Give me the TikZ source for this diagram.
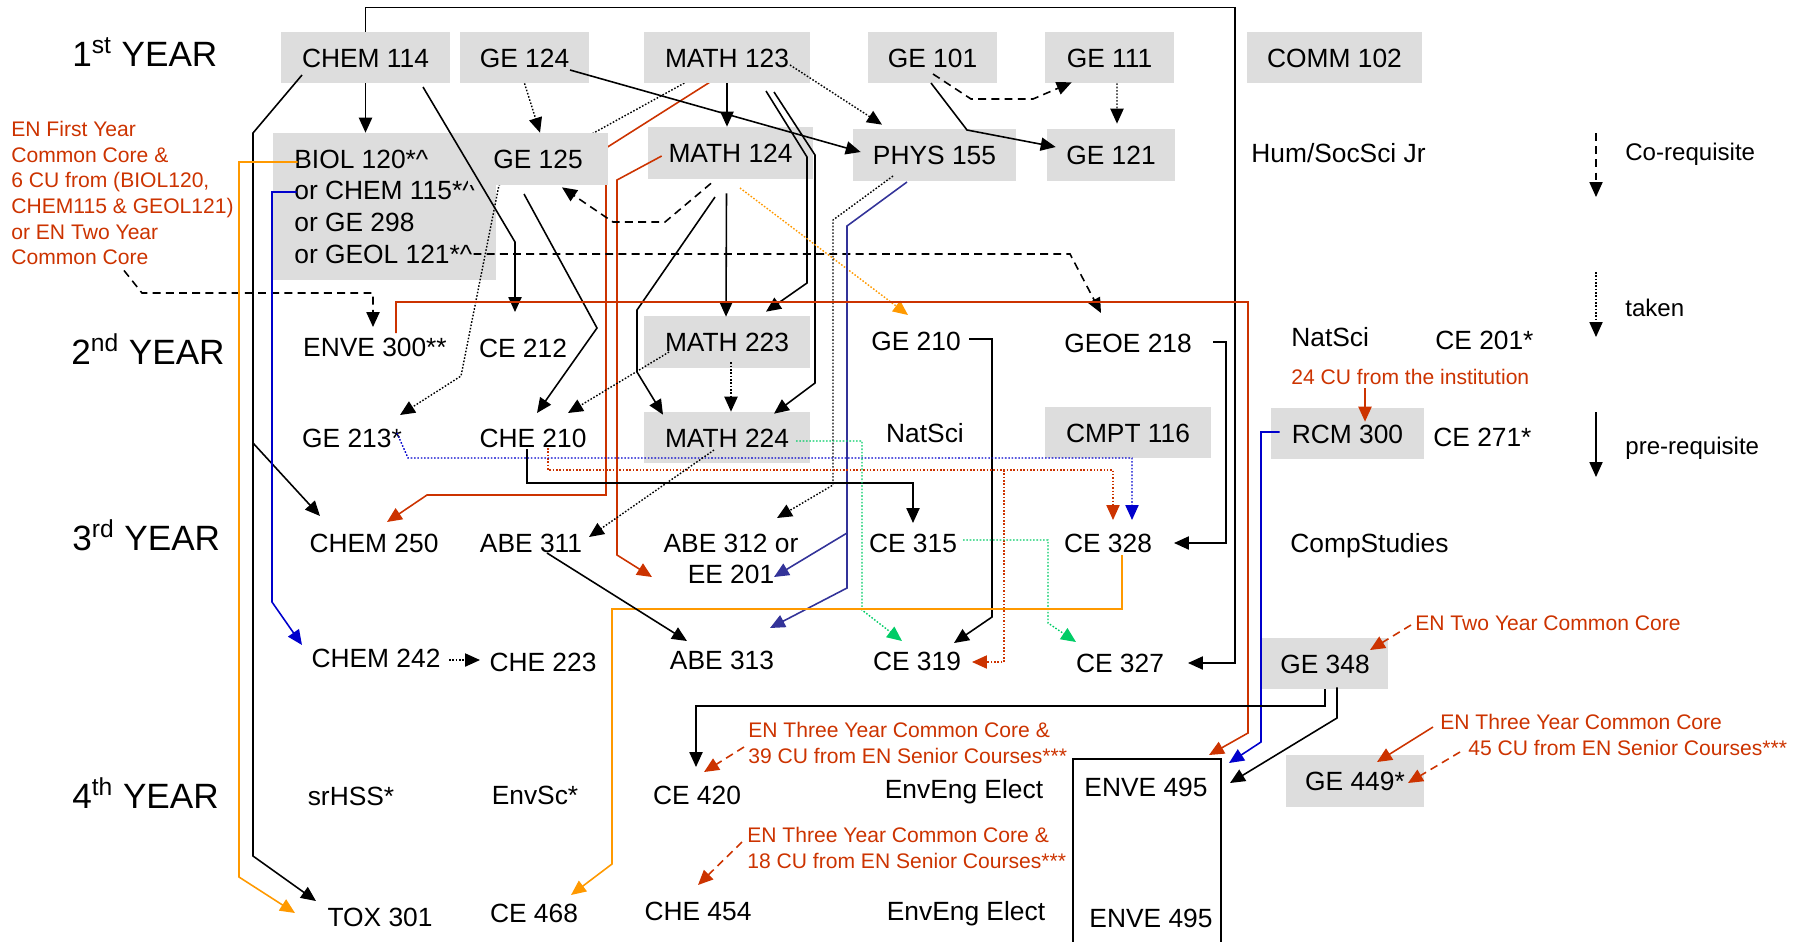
\documentclass[tikz,border=0pt]{standalone}
\usepackage{fontspec}
\setmainfont{Liberation Sans}
\usetikzlibrary{arrows.meta,calc}
\definecolor{redc}{RGB}{204,51,0}
\definecolor{orangec}{RGB}{255,153,0}
\definecolor{bluec}{RGB}{0,0,204}
\definecolor{navyc}{RGB}{51,51,153}
\definecolor{greenc}{RGB}{0,204,102}
\definecolor{boxgray}{RGB}{221,221,221}
\newcommand{\crs}{\fontsize{15}{18}\selectfont}
\newcommand{\lgs}{\fontsize{13.7}{16}\selectfont}
\newcommand{\yrs}{\fontsize{20}{24}\selectfont}
\newcommand{\nts}{\fontsize{12}{14.6}\selectfont}
\pgfdeclarelayer{background}
\pgfsetlayers{background,main}

\begin{document}
\begin{tikzpicture}[x=0.02cm,y=-0.02cm,
	pre/.style={-{Triangle[length=8.5pt,width=7.5pt]},line width=0.9pt},
	coreq/.style={pre,dash pattern=on 4.5pt off 3pt},
	taken/.style={-{Triangle[length=8.5pt,width=7.5pt]},line width=0.8pt,dash pattern=on 0.9pt off 1pt},
	course/.style={fill=boxgray,inner sep=0pt,minimum height=1.02cm,font=\crs,text height=11pt,text depth=0pt},
	plain/.style={inner sep=0pt,font=\crs,text height=11pt,text depth=0pt},
	year/.style={inner sep=0pt,font=\yrs,anchor=west},
	note/.style={inner sep=0pt,font=\nts,text=redc,align=left}]
		\useasboundingbox (0,0) rectangle (1802,941);
		\node[year] (yrA) at (72,52) {1\textsuperscript{st} YEAR};
		\node[year] (yrB) at (71,349) {2\textsuperscript{nd} YEAR};
		\node[year] (yrC) at (72,535) {3\textsuperscript{rd} YEAR};
		\node[year] (yrD) at (72,793) {4\textsuperscript{th} YEAR};
		%%%%%%%%%%%%%%%%%%%%%%%%%%%%%%%%%
		\node[course,minimum width=3.38cm] (chemA) at (365.5,57.5) {CHEM 114};
		\node[course,minimum width=2.58cm] (geA) at (524.5,57.5) {GE 124};
		\node[course,minimum width=3.32cm] (mathA) at (727,57.5) {MATH 123};
		\node[course,minimum width=2.58cm] (geB) at (932.5,57.5) {GE 101};
		\node[course,minimum width=2.58cm] (geC) at (1109.5,57.5) {GE 111};
		\node[course,minimum width=3.5cm] (comm) at (1334.5,57.5) {COMM 102};
		\node[course,minimum width=2.8cm,minimum height=1.04cm] (geD) at (538,159) {GE 125};
		\node[course,minimum width=3.3cm,minimum height=1.04cm] (mathB) at (730.5,153) {MATH 124};
		\node[course,minimum width=3.26cm,minimum height=1.04cm] (phys) at (934.5,155) {PHYS 155};
		\node[course,minimum width=2.56cm,minimum height=1.04cm] (geE) at (1111,155) {GE 121};
		\node[plain,anchor=west] (hum) at (1251,153) {Hum/SocSci Jr};
		\node[note,anchor=north west] (noteA) at (11,121) {EN First Year\\Common Core \&\\6 CU from (BIOL120,\\CHEM115 \& GEOL121)\\or EN Two Year\\Common Core};
		%%%%%%%%%%%%%%%%%%%%%%%%%%%%%%%%%
		\node[plain] (enveA) at (375,347) {ENVE 300**};
		\node[plain] (ceA) at (523,348) {CE 212};
		\node[course,minimum width=3.32cm,minimum height=1.04cm] (mathC) at (727,342) {MATH 223};
		\node[plain] (geI) at (916,341) {GE 210};
		\node[plain] (geoe) at (1128,343) {GEOE 218};
		\node[plain,anchor=west] (natA) at (1291,337) {NatSci};
		\node[plain,anchor=west] (ceH) at (1435,340) {CE 201*};
		\node[note,anchor=west] (noteB) at (1291,377) {24 CU from the institution};
		\node[plain] (geH) at (352,438) {GE 213*};
		\node[plain] (cheA) at (533,438) {CHE 210};
		\node[course,minimum width=3.32cm] (mathD) at (727,437.5) {MATH 224};
		\node[plain] (natB) at (925,433) {NatSci};
		\node[course,minimum width=3.32cm] (cmpt) at (1128,432.5) {CMPT 116};
		\node[course,minimum width=3.06cm] (rcm) at (1347.5,433.5) {RCM 300};
		\node[plain,anchor=west] (ceI) at (1433,437) {CE 271*};
		%%%%%%%%%%%%%%%%%%%%%%%%%%%%%%%%%
		\node[plain] (chemB) at (374,543) {CHEM 250};
		\node[plain] (abeA) at (531,543) {ABE 311};
		\node[inner sep=0pt,font=\crs,align=center] (abeB) at (731,559) {ABE 312 or\\EE 201};
		\node[plain] (ceD) at (913,543) {CE 315};
		\node[plain] (ceC) at (1108,543) {CE 328};
		\node[plain,anchor=west] (comp) at (1290,543) {CompStudies};
		\node[plain] (chemC) at (376,658) {CHEM 242};
		\node[plain] (cheB) at (543,662) {CHE 223};
		\node[plain] (abeC) at (722,660) {ABE 313};
		\node[plain] (ceB) at (917,661) {CE 319};
		\node[plain] (ceE) at (1120,663) {CE 327};
		\node[course,minimum width=2.52cm] (geF) at (1325,663.5) {GE 348};
		\node[note,anchor=west] (noteC) at (1415,623) {EN Two Year Common Core};
		%%%%%%%%%%%%%%%%%%%%%%%%%%%%%%%%%
		\node[plain] (srhss) at (351,796) {srHSS*};
		\node[plain] (envsc) at (535,795) {EnvSc*};
		\node[plain] (ceG) at (697,795) {CE 420};
		\node[note,anchor=west] (noteF) at (748,743) {EN Three Year Common Core \&\\39 CU from EN Senior Courses***};
		\node[plain] (elecA) at (964,789) {EnvEng Elect};
		\node[plain] (enveB) at (1146,787) {ENVE 495};
		\node[course,minimum width=2.76cm,minimum height=1.04cm] (geG) at (1355,781) {GE 449*};
		\node[note,anchor=west] (noteD) at (1440,722) {EN Three Year Common Core};
		\node[note,anchor=west] (noteE) at (1468,748) {45 CU from EN Senior Courses***};
		\node[note,anchor=west] (noteG) at (747,848) {EN Three Year Common Core \&\\18 CU from EN Senior Courses***};
		\node[plain] (tox) at (380,917) {TOX 301};
		\node[plain] (ceF) at (534,913) {CE 468};
		\node[plain] (cheC) at (698,911) {CHE 454};
		\node[plain] (elecB) at (966,911) {EnvEng Elect};
		\node[plain] (enveC) at (1151,918) {ENVE 495};
		\draw[line width=0.9pt] (1073,945) -- (1073,759) -- (1221,759) -- (1221,945);
		\coordinate (enveR) at (1221,759);
		%%%%%%%%%%%%%%%%%%%%%%%%%%%%%%%%% legend
		\coordinate (lgA) at (1596,133);
		\coordinate (lgB) at (1596,197);
		\coordinate (lgC) at (1596,272);
		\coordinate (lgD) at (1596,337);
		\coordinate (lgE) at (1596,412);
		\coordinate (lgF) at (1596,477);
		\draw[coreq,line width=0.7pt] (lgA) -- (lgB);
		\draw[taken,line width=0.7pt] (lgC) -- (lgD);
		\draw[pre,line width=0.7pt] (lgE) -- (lgF);
		\node[plain,font=\lgs,anchor=west] (lgtA) at (1625,151) {Co-requisite};
		\node[plain,font=\lgs,anchor=west] (lgtB) at (1625,307) {taken};
		\node[plain,font=\lgs,anchor=west] (lgtC) at (1625,445) {pre-requisite};
		%%%%%%%%%%%%%%%%%%%%%%%%%%%%%%%%% behind the boxes
		\begin{pgfonlayer}{background}
		\node[fill=boxgray,inner sep=0pt,align=left,font=\crs,minimum width=4.46cm,minimum height=2.94cm] (biol) at (384.5,206.5) {BIOL 120*\textasciicircum\\or CHEM 115*\textasciicircum\\or GE 298\\or GEOL 121*\textasciicircum};
		\draw[taken] ($(mathA)+(-28,17.5)$) -- (499,185) -- (461,376) -- ($(geH)+(48,-23)$);
		\draw[pre,redc] ($(mathA)+(-9,19.5)$) -- (606,148) -- (606,495) -- (427,495) -- ($(chemB)+(13,-21)$);
		\end{pgfonlayer}
		%%%%%%%%%%%%%%%%%%%%%%%%%%%%%%%%% first year
		\draw[pre] (chemA.south) -- (chemA.south |- biol.north);
		\draw[pre] (chemA.north) -- ++(0,-24) -| ($(ceE)+(115,0)$) -- ($(ceE)+(68,0)$);
		\draw[pre] ($(chemA)+(-63.5,17.5)$) -- (253,133) -- (253,856) -- ($(tox)+(-64,-16)$);
		\draw[pre] (253,443) -- ($(chemB)+(-54,-27)$);
		\draw[pre] ($(chemA)+(57.5,29.5)$) -- (515,242) -- ($(ceA)+(-8,-36)$);
		\draw[taken] (geA.south) -- ($(geD.north)+(2,0)$);
		\draw[pre] ($(geA)+(45.5,12.5)$) -- ($(phys.west)+(8,-3)$);
		\draw[pre] (mathA.south) -- (mathA.south |- mathB.north);
		\draw[taken] ($(mathA)+(63,7.5)$) -- ($(phys.north)+(-52.5,-4)$);
		\draw[pre] ($(mathA)+(39,33.5)$) -- (807,157) -- (807,283) -- ($(mathC.north)+(39,-4)$);
		\draw[pre] ($(mathA)+(47,34.5)$) -- (815,155) -- (815,383) -- ($(mathD.north)+(47,2)$);
		\draw[coreq] ($(geB)+(0.5,16.5)$) -- (971,99) -- (1033,99) -- ($(geC.south west)+(27,-1)$);
		\draw[pre] ($(geB)+(-1.5,25.5)$) -- (967,130) -- ($(geE.west)+(9,-8)$);
		\draw[taken] ($(geC.south)+(7.5,0)$) -- ($(geE.north)+(6,-5)$);
		%%%%%%%%%%%%%%%%%%%%%%%%%%%%%%%%% second year
		\draw[coreq] ($(biol)+(89,47.5)$) -- (1070,254) -- ($(geoe)+(-27,-30)$);
		\draw[coreq] ($(noteA.south west)+(113,5)$) -- (142,293) -- (373,293) -- ($(enveA)+(-2,-20)$);
		\draw[pre,orangec] ($(biol.west)+(25,-44.5)$) -- (239,162) -- (239,877) -- ($(tox)+(-85,-4)$);
		\draw[pre,bluec] ($(biol.west)+(24,-14.5)$) -- (272,192) -- (272,602) -- ($(chemC)+(-74,-13)$);
		\draw[pre,redc] ($(mathB.west)+(14,3)$) -- (617,180) -- (617,555) -- ($(abeB)+(-79,18)$);
		\draw[pre] ($(mathB.south)+(-4,14)$) -- ($(mathC.north)+(-1,1)$);
		\draw[pre] ($(mathB)+(-15.5,44)$) -- (637,310) -- (637,372) -- ($(mathD.north)+(-64,3)$);
		\draw[coreq] ($(mathB.south)+(-19.5,4)$) -- (665,222) -- (613,222) -- ($(geD.south)+(24,2)$);
		\draw[taken,orangec] ($(mathB)+(9.5,35)$) -- ($(geI)+(-8,-26)$);
		\draw[pre] ($(geD)+(-14,35)$) -- (597,328) -- ($(cheA)+(4,-25)$);
		\draw[taken] ($(phys)+(-41.5,21)$) -- (833,220) -- (833,485) -- ($(abeB)+(46,-41)$);
		\draw[pre,navyc] ($(phys)+(-27.5,27)$) -- (847,226) -- (847,588) -- ($(abeC)+(48,-32)$);
		\draw[pre,navyc] (847,533) -- ($(abeB)+(43,18)$);
		\draw[pre,redc] ($(enveA)+(21,-14)$) -- (396,302) -- (1248,302) -- (1248,733) -- ($(enveR)+(-12,-4)$);
		\draw[pre] ($(geI)+(53,-2)$) -- (992,339) -- (992,617) -- ($(ceB)+(37,-18)$);
		\draw[pre] ($(geoe)+(85,-1)$) -- (1226,342) -- (1226,543) -- ($(ceC)+(66,0)$);
		\draw[taken] ($(mathC)+(-58,10)$) -- ($(cheA)+(35,-25)$);
		\draw[taken] ($(mathC.south)+(4,-6)$) -- ($(mathD.north)+(4,0)$);
		\draw[pre,redc] ($(noteB.west)+(74,11)$) -- ($(rcm.north)+(17.5,14)$);
		\draw[pre,bluec] ($(rcm.west)+(9,-1.5)$) -- (1261,432) -- (1261,742) -- ($(enveR)+(8,4)$);
		%%%%%%%%%%%%%%%%%%%%%%%%%%%%%%%%% third year
		\draw[pre] ($(cheA)+(-6,11)$) -- (527,483) -| ($(ceD)+(0,-20)$);
		\draw[taken,redc] ($(cheA)+(15,10)$) -- (548,470) -| ($(ceC)+(5,-23)$);
		\draw[taken,redc] (1004,470) -- (1004,662) -- ($(ceB)+(55,1)$);
		\draw[taken,bluec] ($(geH)+(45,-5)$) -- (408,458) -| ($(ceC)+(24,-23)$);
		\draw[taken,greenc] ($(mathD)+(69,3.5)$) -- (862,441) -- (862,610) -- ($(ceB)+(-15,-20)$);
		\draw[taken,greenc] ($(ceD)+(50,-3)$) -- (1048,540) -- (1048,623) -- ($(ceE)+(-44,-21)$);
		\draw[pre,orangec] ($(ceC)+(14,12)$) -- (1122,609) -- (612,609) -- (612,864) -- ($(ceF)+(37,-18)$);
		\draw[taken] ($(mathD)+(-13,12.5)$) -- ($(abeA)+(58,-6)$);
		\draw[pre] ($(abeA)+(16,10)$) -- ($(abeC)+(-35,-19)$);
		\draw[taken] ($(chemC)+(73,2)$) -- ($(cheB)+(-63,-2)$);
		%%%%%%%%%%%%%%%%%%%%%%%%%%%%%%%%% fourth year
		\draw[pre] (geF.south) -- (1325,706) -| ($(ceG)+(-1,-28)$);
		\draw[pre] ($(geF.south)+(12,-2)$) -- (1337,718) -- ($(enveR)+(9,24)$);
		\draw[coreq,redc] ($(noteC.west)+(-4,2)$) -- ($(geF)+(45,-13.5)$);
		\draw[pre,redc] ($(noteD.west)+(-7,5)$) -- ($(geG)+(22,-19)$);
		\draw[coreq,redc] ($(noteE.west)+(-8,4)$) -- ($(geG)+(53,2)$);
		\draw[coreq,redc] ($(noteF.west)+(-4,4)$) -- ($(ceG)+(7,-23)$);
		\draw[coreq,redc] ($(noteG.west)+(-5,-6)$) -- ($(cheC)+(0,-26)$);
	\end{tikzpicture}
\end{document}
